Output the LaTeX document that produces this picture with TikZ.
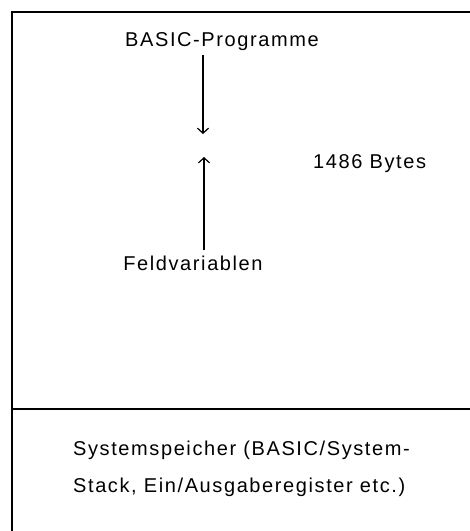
\documentclass[tikz,border=0pt]{standalone}
\usepackage{fontspec}
\setmainfont[LetterSpace=8]{Liberation Sans}
\usetikzlibrary{arrows.meta}
\begin{document}
\begin{tikzpicture}[x=1pt,y=-1pt,
  frame/.style={line width=1.4pt},
  conn/.style={line width=1.2pt,-{Straight Barb[length=5pt,width=11pt,line width=1.2pt]}},
  lbl/.style={font=\fontsize{20}{24}\selectfont,inner sep=0pt}]
\useasboundingbox (0,0) rectangle (470,531);
\draw[frame] (470,12) -- (12,12) -- (12,531);
\draw[frame] (12,409) -- (470,409);
\node[lbl] (bp) at (222,42) {BASIC-Programme};
\node[lbl] (fv) at (193,263) {Feldvariablen};
\node[lbl,anchor=west] (by) at (313,164) {1486 Bytes};
\node[lbl,anchor=north west,align=left,font=\fontsize{20}{37}\selectfont] (sys) at (73,441) {Systemspeicher (BASIC/System-\\Stack, Ein/Ausgaberegister etc.)};
\coordinate (dtip) at (203,134);
\coordinate (utip) at (204,157);
\draw[conn] (bp.south -| dtip) ++(0,4) -- (dtip);
\draw[conn] (fv.north -| utip) ++(0,-5) -- (utip);
\end{tikzpicture}
\end{document}
